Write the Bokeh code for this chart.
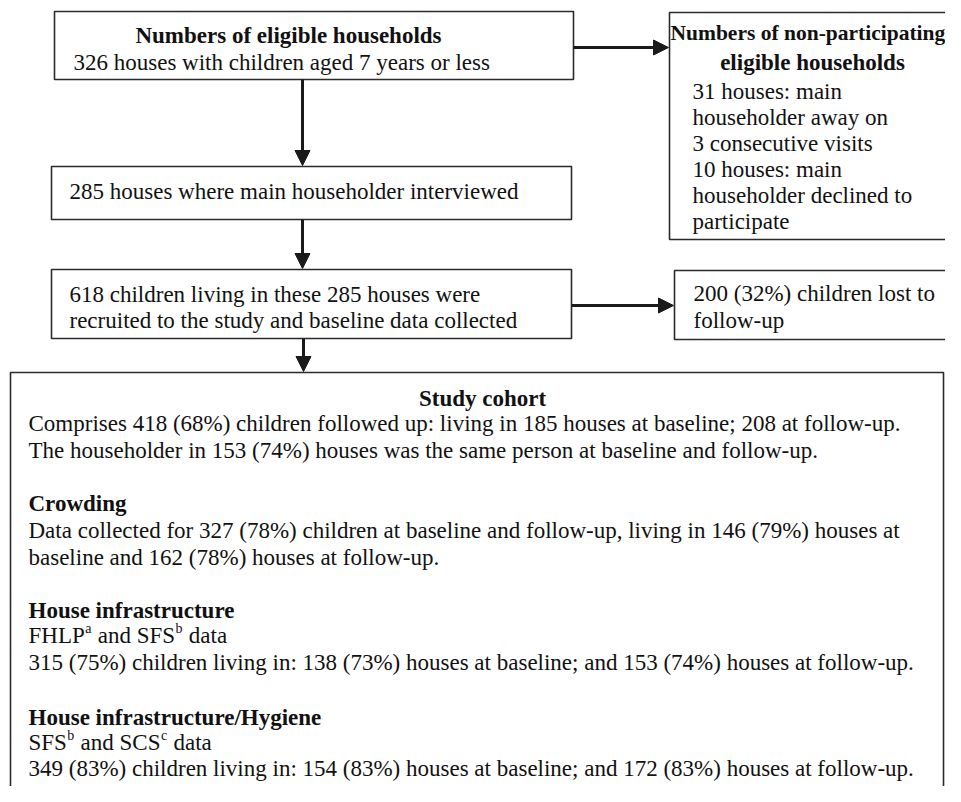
from bokeh.plotting import figure
from bokeh.models import Range1d, ColumnDataSource, Arrow, NormalHead
from bokeh.core.properties import value
from bokeh.embed import file_html
from bokeh.resources import INLINE

# ---------------- content ----------------
box1_title = "Numbers of eligible households"
box1_text = ["326 houses with children aged 7 years or less"]
side1_title = ["Numbers of non-participating", "eligible households"]
side1_text = ["31 houses: main", "householder away on", "3 consecutive visits",
              "10 houses: main", "householder declined to", "participate"]
box2_text = ["285 houses where main householder interviewed"]
box3_text = ["618 children living in these 285 houses were",
             "recruited to the study and baseline data collected"]
side2_text = ["200 (32%) children lost to", "follow-up"]
cohort_title = "Study cohort"
cohort_text = ["Comprises 418 (68%) children followed up: living in 185 houses at baseline; 208 at follow-up.",
               "The householder in 153 (74%) houses was the same person at baseline and follow-up."]
crowd_title = "Crowding"
crowd_text = ["Data collected for 327 (78%) children at baseline and follow-up, living in 146 (79%) houses at",
              "baseline and 162 (78%) houses at follow-up."]
infra_title = "House infrastructure"
infra_sources = [("FHLP", "a"), ("SFS", "b")]
infra_text = ["315 (75%) children living in: 138 (73%) houses at baseline; and 153 (74%) houses at follow-up."]
hyg_title = "House infrastructure/Hygiene"
hyg_sources = [("SFS", "b"), ("SCS", "c")]
hyg_text = ["349 (83%) children living in: 154 (83%) houses at baseline; and 172 (83%) houses at follow-up."]

# ---------------- layout (picture pixels) ----------------
FONT = "Liberation Serif"
FS = 23
SUP_FS = 14
PW, PH = 945, 786

boxes = dict(
    left=[54, 669, 51, 51, 674, 10],
    right=[573, 990, 571, 571, 990, 943],
    top=[11, 12, 166, 269, 270, 372],
    bottom=[79, 239, 219, 338, 339, 830],
)

arrows = [  # x0, y0, x1, y1
    (302, 79, 302, 165),
    (302, 219, 302, 268),
    (573, 47, 668, 47),
    (571, 305, 673, 305),
    (303, 338, 303, 371),
]

rows = []  # x, y, text, align, style, size


def add(x, y, t, align="left", style="normal", size=FS):
    rows.append((x, y, t, align, style, f"{size}px"))


add(288, 35, box1_title, "center", "bold")
add(73, 62, box1_text[0])
add(670, 32, side1_title[0], "left", "bold", 21.5)
add(812, 62, side1_title[1], "center", "bold")
for i, t in enumerate(side1_text):
    add(692, 91 + 26 * i, t)
add(69, 191, box2_text[0])
for i, t in enumerate(box3_text):
    add(69, 294 + 26 * i, t)
for i, t in enumerate(side2_text):
    add(693, 293 + 27 * i, t)
add(482, 398, cohort_title, "center", "bold")
add(28, 423, cohort_text[0])
add(28, 450, cohort_text[1])
add(28, 503, crowd_title, "left", "bold")
add(28, 530, crowd_text[0])
add(28, 557, crowd_text[1])
add(28, 610, infra_title, "left", "bold")
add(28, 662, infra_text[0])
add(28, 717, hyg_title, "left", "bold")
add(28, 768, hyg_text[0])

# Times / Liberation Serif advance widths (1/1000 em) for superscript placement
W = {" ": 250, "a": 444, "b": 500, "c": 444, "d": 500, "n": 500, "t": 278,
     "F": 556, "H": 722, "L": 611, "P": 556, "S": 556, "C": 667}


def tw(s, fs):
    return sum(W[ch] for ch in s) * fs / 1000.0


sup_rows = []


def source_line(x0, y, sources):
    (n1, s1), (n2, s2) = sources
    x = x0
    add(x, y, n1)
    x += tw(n1, FS)
    sup_rows.append((x + 0.5, y - 7, s1))
    x += tw(s1, SUP_FS) + 1 + tw(" ", FS)
    seg = "and " + n2
    add(x, y, seg)
    x += tw(seg, FS)
    sup_rows.append((x + 0.5, y - 7, s2))
    x += tw(s2, SUP_FS) + 1 + tw(" ", FS)
    add(x, y, "data")


source_line(28, 635, infra_sources)
source_line(28, 742, hyg_sources)

# ---------------- figure ----------------
p = figure(width=PW, height=PH, x_range=Range1d(0, PW), y_range=Range1d(PH, 0),
           output_backend="svg", toolbar_location=None,
           x_axis_location=None, y_axis_location=None, min_border=0)
p.grid.visible = False
p.outline_line_color = None
p.background_fill_color = "white"
p.border_fill_color = "white"

p.quad(source=ColumnDataSource(boxes), left="left", right="right", top="top", bottom="bottom",
       fill_color="white", line_color="#2a2a2a", line_width=1.6)

for (x0, y0, x1, y1) in arrows:
    p.add_layout(Arrow(x_start=x0, y_start=y0, x_end=x1, y_end=y1,
                       line_color="#1a1a1a", line_width=3,
                       end=NormalHead(size=15, fill_color="#1a1a1a", line_color="#1a1a1a", line_width=1)))

src = ColumnDataSource(dict(
    x=[r[0] for r in rows], y=[r[1] for r in rows], text=[r[2] for r in rows],
    align=[r[3] for r in rows], style=[r[4] for r in rows], size=[r[5] for r in rows]))
p.text(x="x", y="y", text="text", source=src, text_align="align", text_font_style="style",
       text_font_size="size", text_baseline="middle", text_font=value(FONT), text_color="#111111")

ssrc = ColumnDataSource(dict(x=[r[0] for r in sup_rows], y=[r[1] for r in sup_rows],
                             text=[r[2] for r in sup_rows]))
p.text(x="x", y="y", text="text", source=ssrc, text_align="left", text_baseline="middle",
       text_font=value(FONT), text_font_size=f"{SUP_FS}px", text_color="#111111")

open("out.html", "w").write(file_html(p, INLINE))
